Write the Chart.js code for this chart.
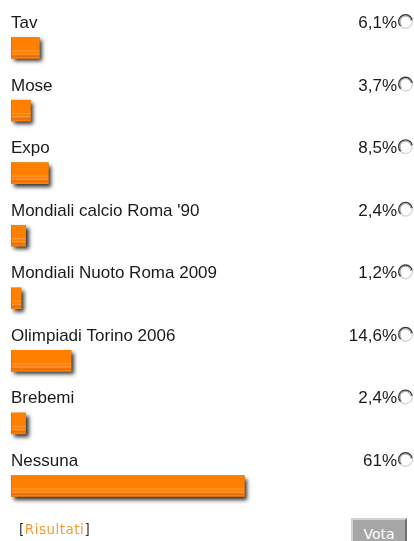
<!DOCTYPE html>
<html>
<head>
<meta charset="utf-8">
<script src="https://cdn.jsdelivr.net/npm/chart.js@4/dist/chart.umd.min.js"></script>
<style>
  html, body { margin: 0; padding: 0; background: #fff; width: 414px; height: 541px; overflow: hidden; }
  #wrap { position: relative; width: 414px; height: 541px; }
  #c { position: absolute; left: 0; top: 0; }
  #ris { position: absolute; left: 19px; top: 521px; font: 13.5px "DejaVu Sans", Verdana, sans-serif; line-height: 16px; letter-spacing: 0.5px; color: #333; }
  #ris span { color: #F59A32; }
  #vota { position: absolute; left: 351px; top: 518px; width: 56px; height: 30px; box-sizing: border-box;
          background: #A6A6A6; border-top: 2px solid #D2D2D2; border-left: 2px solid #D2D2D2;
          border-right: 2px solid #6E6E6E; border-bottom: 2px solid #6E6E6E;
          color: #fff; font: 14px "DejaVu Sans", Verdana, sans-serif; line-height: 16px; padding-top: 6px; text-align: center; }
</style>
</head>
<body>
<div id="wrap">
  <canvas id="c" width="414" height="541"></canvas>
  <div id="ris">[<span>Risultati</span>]</div>
  <div id="vota">Vota</div>
</div>
<script>
const categories = ["Tav", "Mose", "Expo", "Mondiali calcio Roma '90", "Mondiali Nuoto Roma 2009", "Olimpiadi Torino 2006", "Brebemi", "Nessuna"];
const percentValues = [6.1, 3.7, 8.5, 2.4, 1.2, 14.6, 2.4, 61];
const percentLabels = percentValues.map(v => String(v).replace('.', ',') + '%');

const ORANGE = '#FF8000';
const TEXT = '#1a1a1a';
const FONT = '17px "Liberation Sans", Arial, Helvetica, sans-serif';

const pollPlugin = {
  id: 'pollPlugin',
  beforeDatasetsDraw(chart) {
    const ctx = chart.ctx;
    const meta = chart.getDatasetMeta(0);
    ctx.save();
    meta.data.forEach(el => {
      const p = el.getProps(['x', 'y', 'base', 'height'], true);
      const left = Math.min(p.base, p.x), right = Math.max(p.base, p.x);
      const top = p.y - p.height / 2;
      ctx.shadowColor = 'rgba(0,0,0,0.8)';
      ctx.shadowBlur = 4;
      ctx.shadowOffsetX = 3;
      ctx.shadowOffsetY = 3;
      ctx.fillStyle = '#555';
      ctx.fillRect(left, top, right - left, p.height);
    });
    ctx.restore();
  },
  afterDatasetsDraw(chart) {
    const ctx = chart.ctx;
    const meta = chart.getDatasetMeta(0);
    ctx.save();
    meta.data.forEach((el, i) => {
      const p = el.getProps(['x', 'y', 'base', 'height'], true);
      const left = Math.min(p.base, p.x), right = Math.max(p.base, p.x);
      const w = right - left;
      const top = p.y - p.height / 2;
      // stripes
      ctx.fillStyle = '#FF9C45';
      ctx.fillRect(left, top + 13, w, 1);
      ctx.fillRect(left, top + 16, w, 1);
      ctx.fillStyle = '#E56A10';
      ctx.fillRect(left, top + 18, w, 1.5);
      // left edge
      ctx.fillStyle = '#F06E00';
      ctx.fillRect(left, top, 1, p.height);

      // labels
      const baseY = p.y - 20;
      ctx.font = FONT;
      ctx.fillStyle = TEXT;
      ctx.textBaseline = 'alphabetic';
      ctx.textAlign = 'left';
      ctx.fillText(categories[i], 11, baseY);
      ctx.textAlign = 'right';
      ctx.fillText(percentLabels[i], 397, baseY);

      // radio button
      const cx = 405.5, cy = baseY - 6.5, r = 6.8;
      ctx.beginPath();
      ctx.arc(cx, cy, r, 0, Math.PI * 2);
      ctx.fillStyle = '#fff';
      ctx.fill();
      ctx.lineWidth = 1.4;
      ctx.beginPath();
      ctx.arc(cx, cy, r, Math.PI * 0.75, Math.PI * 1.95);
      ctx.strokeStyle = '#3c3c3c';
      ctx.stroke();
      ctx.beginPath();
      ctx.arc(cx, cy, r, Math.PI * 1.95, Math.PI * 2.75);
      ctx.strokeStyle = '#d8d8d8';
      ctx.stroke();
      ctx.lineWidth = 1;
      ctx.beginPath();
      ctx.arc(cx, cy, r - 1.3, Math.PI * 0.75, Math.PI * 1.95);
      ctx.strokeStyle = '#9a9a9a';
      ctx.stroke();
    });
    ctx.restore();
  }
};

new Chart(document.getElementById('c'), {
  type: 'bar',
  data: {
    labels: categories,
    datasets: [{
      data: percentValues,
      base: -1.5,
      backgroundColor: ORANGE,
      borderWidth: 0,
      barThickness: 21
    }]
  },
  options: {
    indexAxis: 'y',
    responsive: false,
    animation: false,
    events: [],
    layout: { padding: { left: 11, right: 24, top: 16.7, bottom: 23.7 } },
    scales: {
      x: { type: 'linear', min: -1.5, max: 100, display: false },
      y: { type: 'category', display: false }
    },
    plugins: {
      legend: { display: false },
      tooltip: { enabled: false },
      title: { display: false }
    }
  },
  plugins: [pollPlugin]
});
</script>
</body>
</html>
